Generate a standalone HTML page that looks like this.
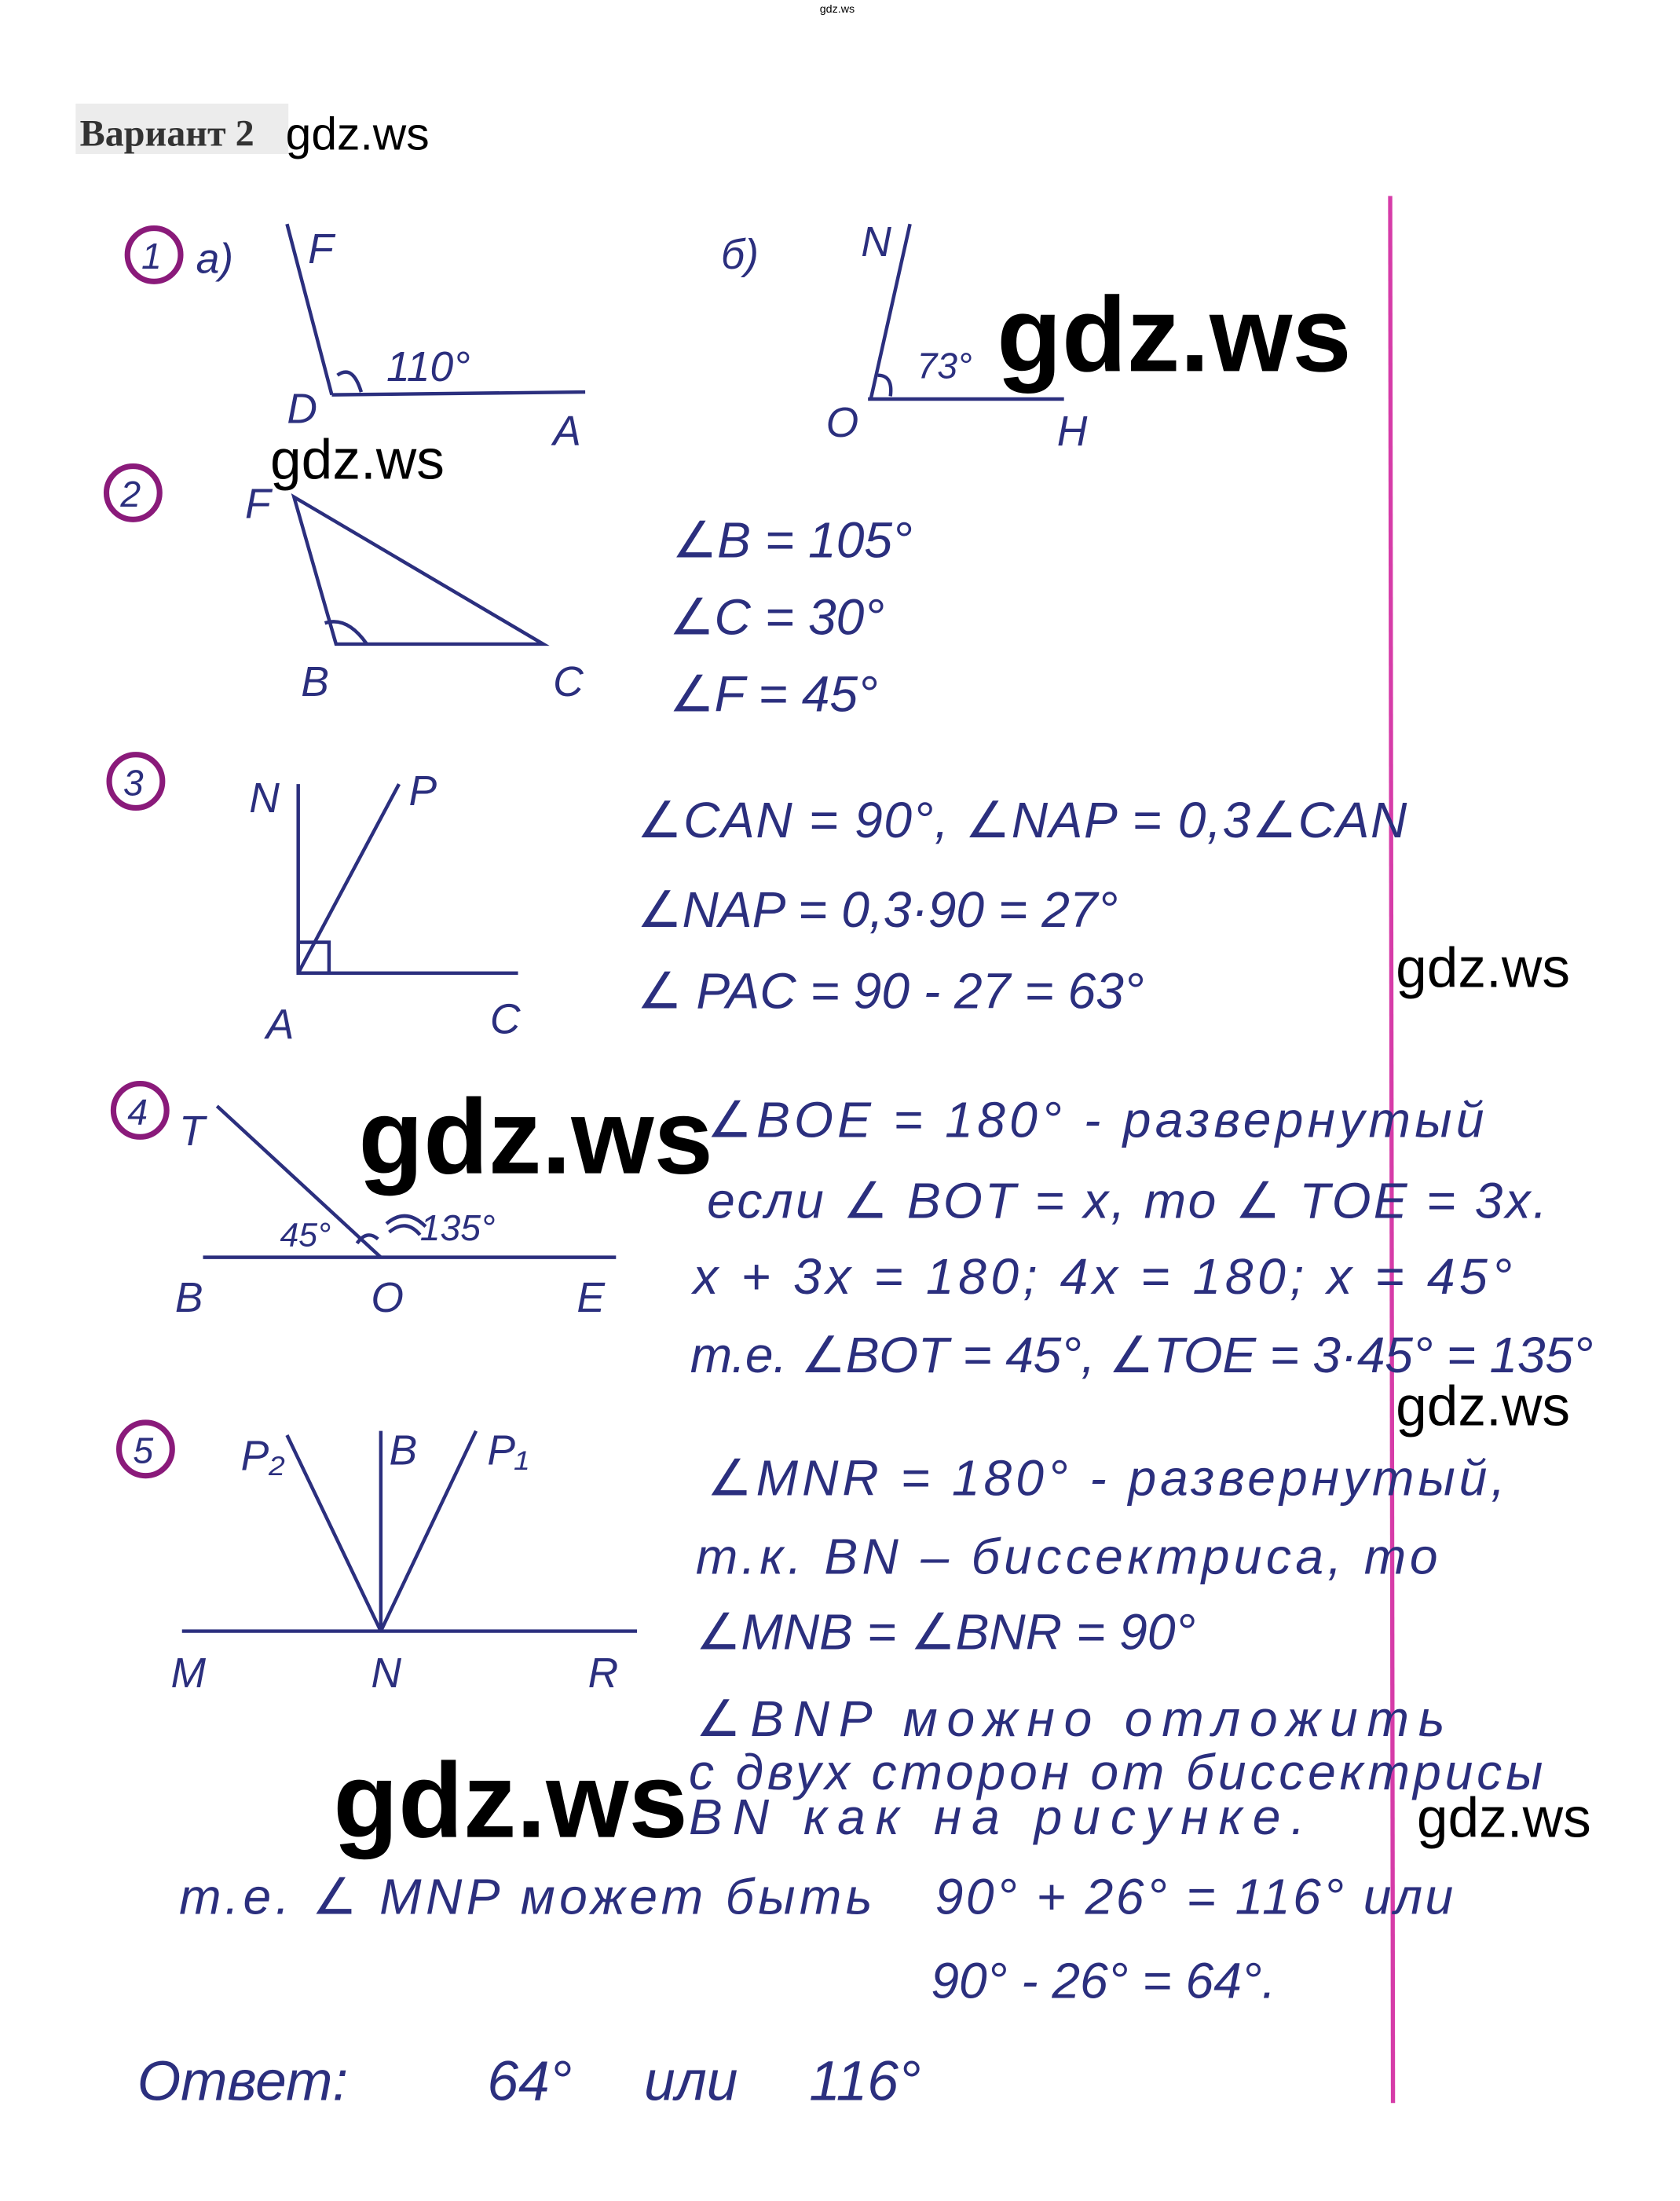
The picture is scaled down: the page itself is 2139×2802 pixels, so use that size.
<!DOCTYPE html>
<html><head><meta charset="utf-8"><style>
html,body{margin:0;padding:0;background:#fff;}
svg{display:block;}
.h{font-family:"Liberation Sans","DejaVu Sans",sans-serif;font-style:italic;fill:#2b2f7e;}
.w{font-family:"Liberation Sans","DejaVu Sans",sans-serif;fill:#000;}
</style></head><body>
<svg width="2139" height="2802" viewBox="0 0 1200 1572" xmlns="http://www.w3.org/2000/svg">
<rect width="1200" height="1572" fill="#fff"/>
<text x="598" y="9" class="w" font-size="8" fill="#8080c0" text-anchor="middle">gdz.ws</text>
<rect x="54" y="74" width="152" height="36" fill="#ececec"/>
<text x="57" y="104" font-family="Liberation Serif,serif" font-weight="bold" font-size="27" fill="#333">Вариант 2</text>
<text x="204" y="107" class="w" font-size="33">gdz.ws</text>
<line x1="993" y1="140" x2="995" y2="1502" stroke="#d63ca8" stroke-width="3"/>
<g stroke="#8a1a7a" stroke-width="4" fill="none">
<circle cx="110" cy="182" r="19"/><circle cx="95" cy="352" r="19"/><circle cx="97" cy="558" r="19"/><circle cx="100" cy="793" r="19"/><circle cx="104" cy="1035" r="19"/>
</g>
<g class="h" font-size="26" font-style="normal">
<text x="101" y="192" fill="#2b2f7e">1</text><text x="86" y="362" fill="#2b2f7e">2</text><text x="88" y="568" fill="#2b2f7e">3</text><text x="91" y="803" fill="#2b2f7e">4</text><text x="95" y="1045" fill="#2b2f7e">5</text>
</g>
<g stroke="#2b2f7e" stroke-width="2.5" fill="none">
<line x1="205" y1="160" x2="237" y2="282"/><line x1="237" y1="282" x2="418" y2="280"/>
<path d="M241 268 Q252 260 258 280"/>
<line x1="650" y1="160" x2="622" y2="285"/><line x1="620" y1="285" x2="760" y2="285"/>
<path d="M627 268 Q638 268 636 283"/>
<path d="M210 355 L240 460 L388 460 Z"/><path d="M232 445 Q248 440 262 460"/>
<line x1="213" y1="560" x2="213" y2="695"/><line x1="213" y1="695" x2="370" y2="695"/><line x1="213" y1="695" x2="285" y2="560"/>
<rect x="213" y="673" width="22" height="22"/>
<line x1="155" y1="790" x2="272" y2="898"/><line x1="145" y1="898" x2="440" y2="898"/>
<path d="M255 888 Q262 878 270 885"/><path d="M278 880 Q290 870 300 882"/><path d="M276 874 Q290 862 304 876"/>
<line x1="272" y1="1165" x2="205" y2="1025"/><line x1="272" y1="1165" x2="272" y2="1022"/><line x1="272" y1="1165" x2="340" y2="1022"/>
<line x1="130" y1="1165" x2="455" y2="1165"/>
</g>
<g class="h" font-size="30">
<text x="140" y="195">a)</text><text x="220" y="188">F</text><text x="276" y="272">110°</text><text x="205" y="302">D</text><text x="395" y="318">A</text>
<text x="515" y="192">б)</text><text x="615" y="183">N</text><text x="655" y="270" font-size="26">73°</text><text x="590" y="312">O</text><text x="755" y="318">H</text>
<text x="175" y="370">F</text><text x="215" y="497">B</text><text x="395" y="497">C</text>
<text x="178" y="580">N</text><text x="292" y="575">P</text><text x="190" y="742">A</text><text x="350" y="738">C</text>
<text x="128" y="818">T</text><text x="200" y="890" font-size="24">45°</text><text x="300" y="886" font-size="26">135°</text>
<text x="125" y="937">B</text><text x="265" y="937">O</text><text x="412" y="937">E</text>
<text x="172" y="1050">P₂</text><text x="278" y="1046">B</text><text x="348" y="1046">P₁</text>
<text x="122" y="1205">M</text><text x="265" y="1205">N</text><text x="420" y="1205">R</text>
</g>
<g class="h" font-size="36">
<text x="480" y="398">∠B = 105°</text>
<text x="478" y="453">∠C = 30°</text>
<text x="478" y="508">∠F = 45°</text>
<text x="455" y="598" textLength="550">∠CAN = 90°, ∠NAP = 0,3∠CAN</text>
<text x="455" y="662">∠NAP = 0,3·90 = 27°</text>
<text x="455" y="720">∠ PAC = 90 - 27 = 63°</text>
<text x="505" y="812" textLength="555">∠BOE = 180° - развернутый</text>
<text x="505" y="870" textLength="600">если ∠ BOT = x, то ∠ TOE = 3x.</text>
<text x="495" y="924" textLength="585">x + 3x = 180; 4x = 180; x = 45°</text>
<text x="493" y="980" textLength="645">т.е. ∠BOT = 45°, ∠TOE = 3·45° = 135°</text>
<text x="505" y="1068" textLength="570">∠MNR = 180° - развернутый,</text>
<text x="497" y="1124" textLength="530">т.к. BN – биссектриса, то</text>
<text x="497" y="1178">∠MNB = ∠BNR = 90°</text>
<text x="497" y="1240" textLength="535">∠BNP можно отложить</text>
<text x="492" y="1278" textLength="610">с двух сторон от биссектрисы</text>
<text x="492" y="1310" textLength="440">BN как на рисунке.</text>
<text x="128" y="1367" textLength="495">т.е. ∠ MNP может быть</text>
<text x="668" y="1367" textLength="370">90° + 26° = 116° или</text>
<text x="665" y="1427">90° - 26° = 64°.</text>
<text x="98" y="1500" font-size="40">Ответ:</text>
<text x="348" y="1500" font-size="40">64°</text>
<text x="460" y="1500" font-size="40">или</text>
<text x="578" y="1500" font-size="40">116°</text>
</g>
<g class="w" font-weight="bold">
<text x="712" y="265" font-size="76">gdz.ws</text>
<text x="256" y="838" font-size="76">gdz.ws</text>
<text x="238" y="1312" font-size="76">gdz.ws</text>
</g>
<g class="w" font-size="40">
<text x="193" y="342">gdz.ws</text>
<text x="997" y="705">gdz.ws</text>
<text x="997" y="1018">gdz.ws</text>
<text x="1012" y="1312">gdz.ws</text>
</g>
</svg>
</body></html>
